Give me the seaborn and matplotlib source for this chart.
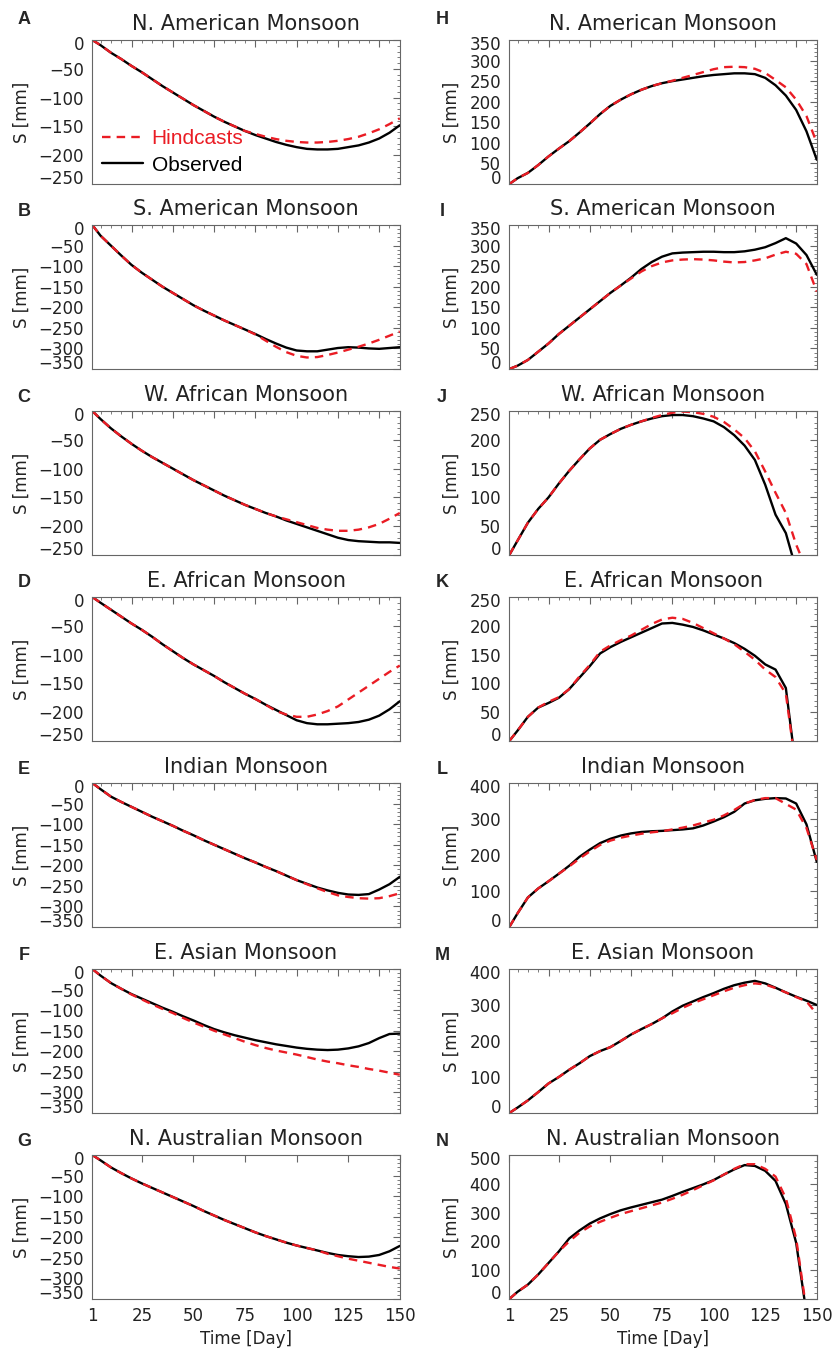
import numpy as np
import matplotlib
matplotlib.use("Agg")
import matplotlib.pyplot as plt
import seaborn as sns
from matplotlib.ticker import MultipleLocator, NullLocator
from matplotlib.transforms import ScaledTranslation

sns.set_style("white")
plt.rcParams["font.family"] = ["DejaVu Sans"]
plt.rcParams["axes.unicode_minus"] = True

# day grid (same for every panel)
days = [1, 5, 10, 15, 20, 25, 30, 35, 40, 45, 50, 55, 60, 65, 70, 75,
        80, 85, 90, 95, 100, 105, 110, 115, 120, 125, 130, 135, 140, 145, 150]

# left column (A-G)
obs_A = [0, -9, -22, -33, -45, -56, -68, -80, -91, -102, -113, -123, -133, -142, -150, -158,
         -165, -171, -177, -182, -186, -189, -190, -190, -189, -186, -183, -178, -171, -161, -148]
hind_A = [0, -9, -22, -33, -45, -56, -68, -80, -91, -102, -113, -123, -133, -142, -150, -158,
          -163, -168, -172, -175, -177, -178, -178, -177, -175, -172, -168, -162, -155, -146, -136]
obs_B = [0, -26, -50, -74, -97, -116, -133, -150, -165, -180, -195, -208, -220, -232, -243, -254,
         -265, -277, -288, -298, -305, -307, -307, -303, -299, -297, -298, -300, -301, -299, -297]
hind_B = [0, -26, -50, -74, -97, -116, -133, -150, -165, -180, -195, -208, -220, -232, -243, -254,
          -266, -281, -296, -309, -318, -322, -321, -316, -310, -303, -296, -288, -279, -269, -259]
obs_C = [0, -14, -30, -44, -57, -69, -80, -90, -100, -110, -120, -129, -138, -147, -155, -163,
         -170, -177, -183, -190, -196, -202, -208, -214, -220, -224, -226, -227, -228, -228, -229]
hind_C = [0, -14, -30, -44, -57, -69, -80, -90, -100, -110, -120, -129, -138, -147, -155, -163,
          -170, -177, -183, -188, -193, -198, -203, -206, -208, -208, -206, -202, -196, -187, -177]
obs_D = [0, -10, -22, -34, -46, -57, -69, -82, -94, -106, -117, -127, -137, -148, -158, -168,
         -177, -187, -196, -205, -214, -219, -221, -221, -220, -219, -217, -213, -206, -195, -181]
hind_D = [0, -10, -22, -34, -46, -57, -69, -82, -94, -106, -117, -127, -137, -148, -158, -168,
          -177, -187, -198, -204, -208, -208, -204, -198, -190, -178, -166, -154, -142, -130, -119]
obs_E = [0, -15, -33, -46, -58, -70, -82, -93, -104, -116, -127, -139, -150, -161, -172, -183,
         -193, -204, -214, -225, -236, -245, -254, -261, -267, -271, -272, -270, -259, -246, -228]
hind_E = [0, -15, -33, -46, -58, -70, -82, -93, -104, -116, -127, -139, -150, -161, -172, -183,
          -193, -204, -214, -225, -236, -246, -256, -265, -273, -277, -280, -281, -280, -275, -268]
obs_F = [0, -16, -34, -48, -61, -72, -83, -94, -104, -115, -125, -136, -146, -154, -161, -167,
         -173, -178, -183, -187, -191, -194, -196, -197, -196, -193, -188, -180, -168, -158, -157]
hind_F = [0, -16, -34, -48, -62, -74, -86, -97, -107, -119, -130, -140, -150, -159, -168, -177,
          -185, -192, -198, -203, -208, -214, -220, -225, -229, -234, -238, -243, -247, -252, -257]
obs_G = [0, -13, -30, -44, -57, -69, -80, -91, -102, -113, -124, -136, -147, -158, -168, -178,
         -188, -197, -205, -213, -220, -226, -232, -238, -243, -246, -248, -247, -243, -234, -221]
hind_G = [0, -13, -30, -44, -57, -69, -80, -91, -102, -113, -124, -136, -147, -158, -168, -178,
          -188, -197, -205, -213, -220, -226, -232, -240, -246, -252, -257, -262, -267, -272, -276]

# right column (H-N)
obs_H = [0, 14, 27, 46, 67, 86, 104, 125, 147, 170, 190, 205, 218, 229, 238, 245,
         250, 254, 258, 262, 265, 267, 269, 269, 267, 258, 240, 215, 180, 128, 59]
hind_H = [0, 14, 27, 46, 67, 86, 104, 125, 147, 170, 190, 205, 218, 229, 238, 245,
          251, 258, 265, 272, 279, 284, 285, 284, 280, 270, 253, 235, 205, 165, 100]
obs_I = [0, 8, 22, 42, 62, 85, 105, 125, 145, 165, 185, 203, 222, 243, 260, 273,
         281, 283, 284, 285, 285, 284, 284, 286, 290, 296, 306, 318, 305, 277, 229]
hind_I = [0, 8, 22, 42, 62, 85, 105, 125, 145, 165, 185, 203, 220, 237, 250, 259,
          264, 266, 267, 266, 264, 261, 259, 260, 264, 269, 278, 285, 280, 255, 188]
obs_J = [0, 25, 56, 80, 100, 124, 146, 166, 185, 200, 210, 219, 226, 232, 237, 241,
         243, 243, 241, 237, 232, 222, 208, 190, 165, 122, 70, 38, -25, -60, -100]
hind_J = [0, 25, 56, 80, 100, 124, 146, 166, 185, 200, 210, 219, 226, 232, 238, 243,
          247, 249, 248, 245, 240, 231, 218, 203, 180, 145, 108, 73, 18, -25, -70]
obs_K = [0, 18, 42, 58, 66, 75, 90, 110, 130, 152, 163, 172, 180, 188, 196, 204,
         205, 202, 198, 192, 185, 178, 170, 160, 148, 133, 124, 92, -50, -90, -120]
hind_K = [0, 18, 42, 58, 68, 76, 90, 112, 132, 155, 166, 175, 183, 193, 203, 211,
          214, 212, 205, 196, 187, 178, 168, 155, 141, 124, 111, 82, -50, -90, -120]
obs_L = [0, 38, 82, 107, 127, 148, 170, 195, 215, 233, 245, 254, 260, 264, 266, 267,
         269, 271, 274, 282, 293, 305, 320, 343, 352, 356, 358, 357, 343, 285, 181]
hind_L = [0, 38, 82, 107, 127, 148, 168, 190, 210, 228, 240, 248, 254, 259, 263, 266,
          271, 276, 282, 290, 298, 310, 325, 343, 353, 358, 358, 342, 326, 275, 186]
obs_M = [0, 15, 35, 58, 82, 100, 120, 138, 158, 172, 183, 200, 218, 233, 247, 263,
         282, 298, 310, 322, 333, 345, 355, 362, 367, 360, 348, 335, 323, 312, 300]
hind_M = [0, 15, 35, 58, 82, 100, 120, 138, 158, 172, 183, 200, 218, 233, 247, 263,
          277, 292, 305, 316, 327, 338, 348, 355, 360, 357, 347, 335, 322, 310, 275]
obs_N = [0, 25, 50, 85, 125, 165, 210, 238, 262, 280, 295, 308, 318, 327, 336, 345,
         358, 372, 385, 398, 413, 432, 450, 465, 462, 445, 410, 330, 195, -50, -200]
hind_N = [0, 25, 50, 85, 125, 165, 200, 230, 252, 268, 282, 295, 305, 315, 325, 335,
          348, 362, 378, 395, 412, 432, 452, 468, 468, 452, 425, 350, 210, -40, -200]

titles = ["N. American Monsoon", "S. American Monsoon", "W. African Monsoon",
          "E. African Monsoon", "Indian Monsoon", "E. Asian Monsoon",
          "N. Australian Monsoon"]
letters_left = ["A", "B", "C", "D", "E", "F", "G"]
letters_right = ["H", "I", "J", "K", "L", "M", "N"]

left_obs = [obs_A, obs_B, obs_C, obs_D, obs_E, obs_F, obs_G]
left_hind = [hind_A, hind_B, hind_C, hind_D, hind_E, hind_F, hind_G]
left_ylim = [(-250, 50), (-350, 50), (-250, 50), (-250, 50), (-350, 50), (-350, 50), (-350, 50)]
right_obs = [obs_H, obs_I, obs_J, obs_K, obs_L, obs_M, obs_N]
right_hind = [hind_H, hind_I, hind_J, hind_K, hind_L, hind_M, hind_N]
right_ylim = [(350, 50), (350, 50), (250, 50), (250, 50), (400, 100), (400, 100), (500, 100)]

RED = "#ea1c24"
W, H = 835, 1355
fig = plt.figure(figsize=(W / 100, H / 100), dpi=100)

row_tops = [40, 225, 411, 597, 783, 969, 1155]
ax_h = 144
ax_w = 307.5


def draw(ax, obs, hind, lo, hi, step, title, bottom, ylab_x):
    sns.lineplot(x=days, y=obs, ax=ax, color="black", lw=1.7, legend=False)
    sns.lineplot(x=days, y=hind, ax=ax, color=RED, lw=1.7,
                 linestyle=(0, (3.6, 2.6)), legend=False)
    ax.set_xlim(1, 150)
    ax.set_ylim(lo, hi)
    ax.set_yticks(np.arange(lo, hi + 1, step))
    ax.yaxis.set_minor_locator(MultipleLocator(step / 5))
    if bottom:
        ax.set_xticks([1, 25, 50, 75, 100, 125, 150])
        ax.xaxis.set_minor_locator(NullLocator())
        ax.set_xlabel("Time [Day]", fontsize=12, color="#222222", labelpad=3)
    else:
        ax.set_xticks(np.arange(20, 150, 20))
        ax.xaxis.set_minor_locator(MultipleLocator(5))
        ax.tick_params(labelbottom=False)
    ax.tick_params(which="both", direction="in", top=True, right=True,
                   color="#666666", labelcolor="#222222", labelsize=12, pad=6)
    ax.tick_params(which="major", length=5, width=0.8)
    ax.tick_params(which="minor", length=2.5, width=0.6)
    for s in ax.spines.values():
        s.set_color("#666666")
        s.set_linewidth(0.8)
    # end labels pushed inside the frame, as in the original
    labs = ax.get_yticklabels()
    labs[0].set_va("baseline")
    labs[-1].set_va("top")
    labs[-1].set_transform(labs[-1].get_transform()
                           + ScaledTranslation(0, 3 / 72, ax.figure.dpi_scale_trans))
    ax.set_ylabel("S [mm]", fontsize=12, color="#222222")
    ax.yaxis.set_label_coords(ylab_x, 0.5)
    ax.set_title(title, fontsize=15, color="#222222", pad=7)


for i in range(7):
    top = row_tops[i]
    y0 = 1 - (top + ax_h) / H
    bottom = i == 6
    letter_y = top - (20 if i == 0 else 14)

    lo, step = left_ylim[i]
    axl = fig.add_axes([92.3 / W, y0, ax_w / W, ax_h / H])
    draw(axl, left_obs[i], left_hind[i], lo, 0, step, titles[i], bottom, -0.199)
    fig.text(24 / W, 1 - letter_y / H, letters_left[i], fontsize=13,
             fontweight="bold", family="Liberation Sans", ha="center", va="center")

    hi, step = right_ylim[i]
    axr = fig.add_axes([509.3 / W, y0, ax_w / W, ax_h / H])
    draw(axr, right_obs[i], right_hind[i], 0, hi, step, titles[i], bottom, -0.157)
    fig.text(442 / W, 1 - letter_y / H, letters_right[i], fontsize=13,
             fontweight="bold", family="Liberation Sans", ha="center", va="center")

    if i == 0:
        h_obs, h_hind = axl.lines[0], axl.lines[1]
        axl.legend([h_hind, h_obs], ["Hindcasts", "Observed"], loc="lower left",
                   frameon=False, prop={"family": "Liberation Sans", "size": 15},
                   labelcolor="linecolor", handlelength=2.0, handletextpad=0.4,
                   labelspacing=0.35, borderaxespad=0.2, borderpad=0.25)

fig.savefig("out.png", dpi=100)
